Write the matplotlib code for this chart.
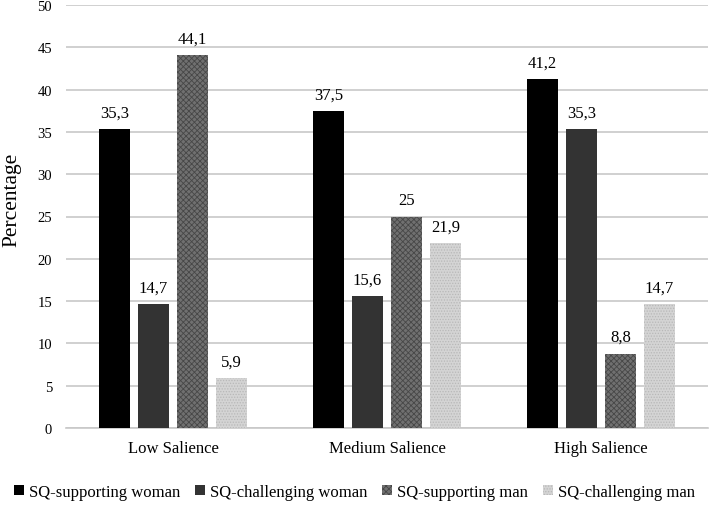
import matplotlib
matplotlib.use("Agg")
import matplotlib.pyplot as plt
import numpy as np

plt.rcParams['font.family'] = ['Liberation Serif', 'DejaVu Serif']
plt.rcParams['hatch.linewidth'] = 0.6

categories = ["Low Salience", "Medium Salience", "High Salience"]
series_names = ["SQ-supporting woman", "SQ-challenging woman", "SQ-supporting man", "SQ-challenging man"]
sq_supporting_woman = [35.3, 37.5, 41.2]
sq_challenging_woman = [14.7, 15.6, 35.3]
sq_supporting_man = [44.1, 25, 8.8]
sq_challenging_man = [5.9, 21.9, 14.7]
yticks = [0, 5, 10, 15, 20, 25, 30, 35, 40, 45, 50]

series = [sq_supporting_woman, sq_challenging_woman, sq_supporting_man, sq_challenging_man]
faces = ['#000000', '#333333', '#707070', '#d4d4d4']
hatches = [None, None, 'xxxxxx', '......']
hatch_colors = [None, None, '#474747', '#b8b8b8']

fig = plt.figure(figsize=(7.09, 5.06), dpi=100)
ax = fig.add_axes([66/709, 77/506, 642/709, 423/506])

x = np.arange(len(categories))
step = 0.182
width = 0.147
handles = []
for i, (vals, fc, h, hc) in enumerate(zip(series, faces, hatches, hatch_colors)):
    pos = x + (i - 1.5) * step
    bars = ax.bar(pos, vals, width, color=fc, zorder=3, label=series_names[i],
                  hatch=h, edgecolor=hc if hc else fc, linewidth=0)
    handles.append(bars)
    for p, v in zip(pos, vals):
        s = (f"{v:g}").replace('.', ',')
        ax.text(p, v + 1.0, s, ha='center', va='bottom', fontsize=12, color='#000000')

ax.set_xlim(-0.5, 2.5)
ax.set_ylim(0, 50)
ax.set_yticks(yticks)
ax.yaxis.grid(True, color='#c8c8c8', linewidth=1.2, zorder=0)
ax.set_axisbelow(True)
for s in ['top', 'right', 'left']:
    ax.spines[s].set_visible(False)
ax.spines['bottom'].set_color('#c8c8c8')
ax.spines['bottom'].set_linewidth(1.2)
ax.tick_params(axis='both', length=0, labelsize=10.5, colors='#000000')
ax.tick_params(axis='y', pad=10)
ax.set_xticks(x)
ax.set_xticklabels(categories, fontsize=12)
ax.tick_params(axis='x', pad=9)

fig.text(12/709, 306/506, "Percentage", rotation=90, ha='center', va='center', fontsize=15.5)

fig.legend(handles=handles, labels=series_names, loc='center', bbox_to_anchor=(0.5, 13/506),
           ncol=4, frameon=False, fontsize=12, handlelength=0.6, handleheight=0.6,
           handletextpad=0.3, columnspacing=0.9)

fig.savefig("out.png", dpi=100)
